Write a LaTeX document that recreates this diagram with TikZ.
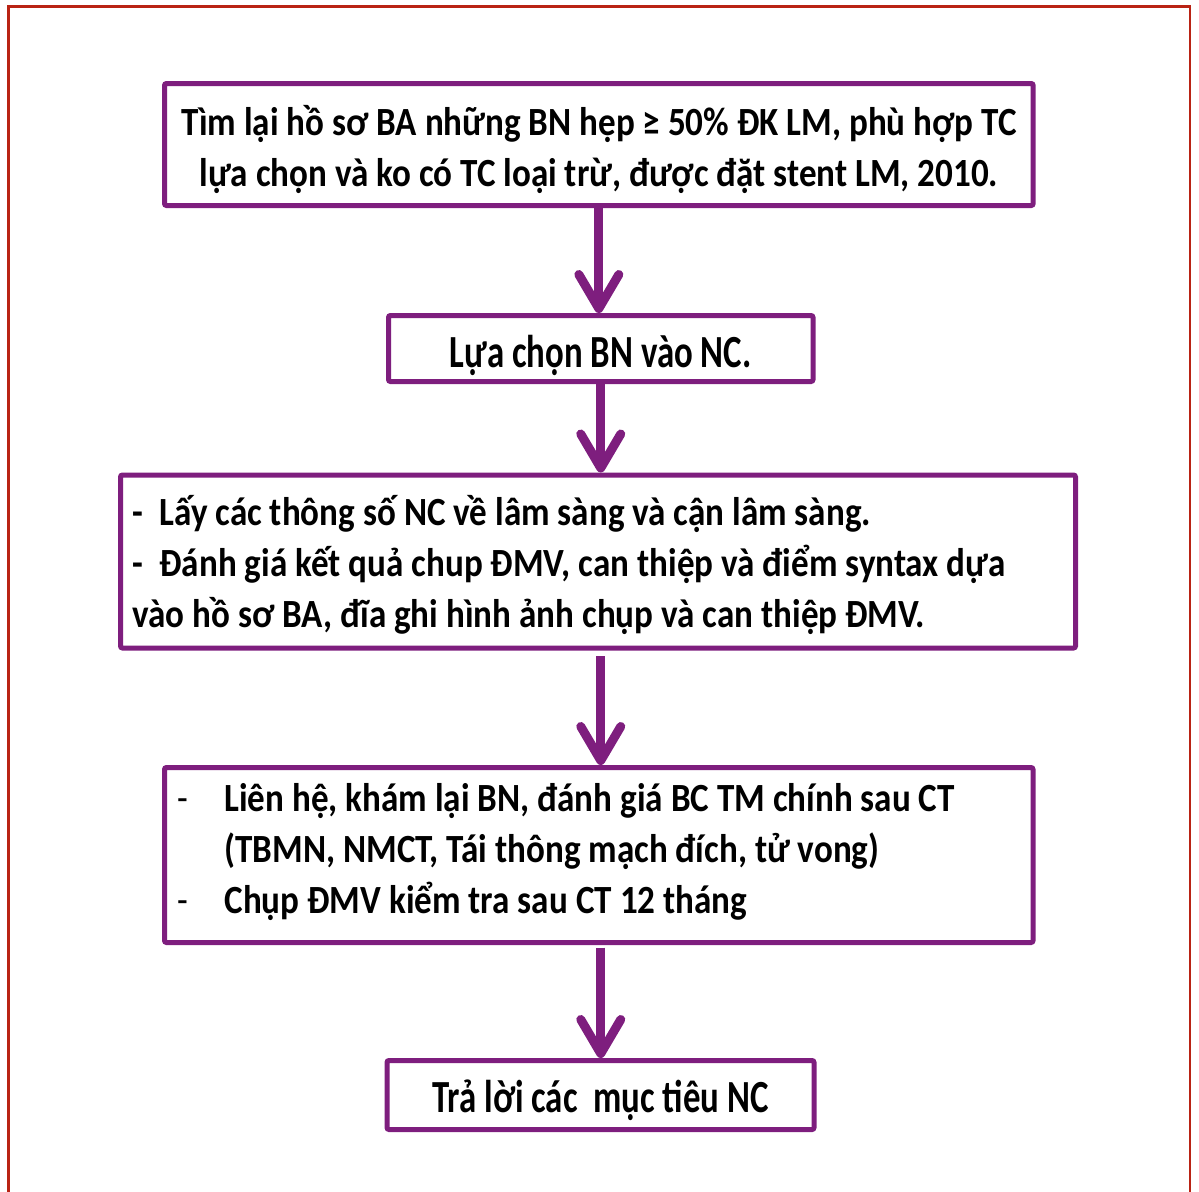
\documentclass[tikz,border=0pt]{standalone}
\usepackage{fontspec}
\setmainfont{Carlito}[FakeStretch=0.877]
\newfontfamily\narrowfont{Carlito}[FakeStretch=0.757]
\usetikzlibrary{arrows.meta}
\definecolor{boxpurple}{RGB}{126,30,126}
\definecolor{framered}{RGB}{185,35,20}
\begin{document}
\begin{tikzpicture}[x=1pt,y=-1pt,
  stepbox/.style={draw=boxpurple, line width=5pt, rounded corners=2pt, fill=white,
    font=\fontsize{40}{51}\selectfont\bfseries, inner ysep=0pt, outer sep=0pt,
    anchor=north west},
  shortbox/.style={stepbox, font=\narrowfont\fontsize{46}{51}\selectfont\bfseries,
    align=flush center},
  flow/.style={draw=boxpurple, line width=9pt,
    -{Straight Barb[round,length=34pt,width=40pt]},
    shorten <=2.5pt, shorten >=2.5pt}
]
\useasboundingbox (0,0) rectangle (1199,1191);
% outer frame, open at the bottom
\draw[framered, line width=2.5pt] (8.5,1195) -- (8.5,6.5) -- (1190,6.5) -- (1190,1195);

\node[stepbox, minimum width=868.5pt, minimum height=122pt, align=flush center,
      text width=862pt, text height=32pt, text depth=51pt]
  (b1) at (164.5,83.5)
  {Tìm lại hồ sơ BA những BN hẹp ≥ 50\% ĐK LM, phù hợp TC\\
   lựa chọn và ko có TC loại trừ, được đặt stent LM, 2010.};

\node[shortbox, minimum width=424.5pt, minimum height=66pt,
      text height=37pt, text depth=0pt]
  (b2) at (388.5,315.5) {Lựa chọn BN vào NC.};

\node[stepbox, minimum width=955pt, minimum height=173pt, align=flush left,
      inner xsep=12pt, text width=931pt, text height=39pt, text depth=112pt]
  (b3) at (120.5,475)
  {\makebox[27pt][l]{-}Lấy các thông số NC về lâm sàng và cận lâm sàng.\\
   \makebox[27pt][l]{-}Đánh giá kết quả chup ĐMV, can thiệp và điểm syntax dựa\\
   vào hồ sơ BA, đĩa ghi hình ảnh chụp và can thiệp ĐMV.};

\node[stepbox, minimum width=868.5pt, minimum height=175pt, align=flush left,
      inner xsep=13pt, text width=842.5pt, text height=24pt, text depth=112pt]
  (b4) at (164.5,767.5)
  {\makebox[47pt][l]{\mdseries -}Liên hệ, khám lại BN, đánh giá BC TM chính sau CT\\
   \hspace*{47pt}(TBMN, NMCT, Tái thông mạch đích, tử vong)\\
   \makebox[47pt][l]{\mdseries -}Chụp ĐMV kiểm tra sau CT 12 tháng};

\node[shortbox, minimum width=427pt, minimum height=69pt,
      text height=34pt, text depth=0pt]
  (b5) at (387,1060.5) {Trả lời các\ \ mục tiêu NC};

\draw[flow] (b1.south) -- (b1.south |- b2.north);
\draw[flow] (b2.south) -- (b2.south |- b3.north);
\draw[flow, shorten <=8pt] (b3.south -| b2.south) -- (b2.south |- b4.north);
\draw[flow, shorten <=5pt] (b4.south -| b2.south) -- (b2.south |- b5.north);
\end{tikzpicture}
\end{document}
